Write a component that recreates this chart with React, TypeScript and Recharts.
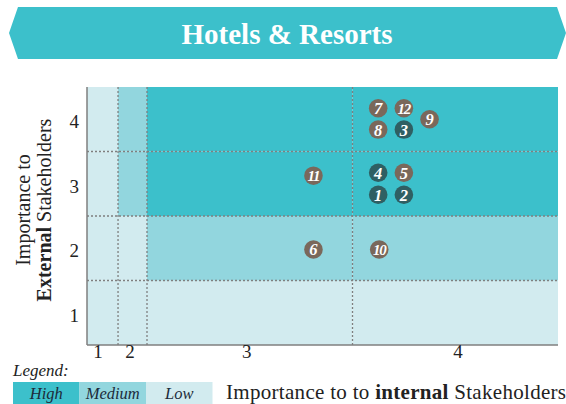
import React from 'react';
import { ScatterChart, Scatter, XAxis, YAxis, ReferenceArea, ReferenceLine } from 'recharts';

// ---- data ----
const titleText = 'Hotels & Resorts';
const xAxisLabelParts = ['Importance to to ', 'internal', ' Stakeholders'];
const yAxisLabelLine1 = 'Importance to';
const yAxisLabelLine2 = ['External', ' Stakeholders'];

// internal importance bands (x) - edges in score units
const xBandEdges = [1.708, 1.859, 2, 3, 4];
const xTickLabels = ['1', '2', '3', '4'];
const xTickValues = [1.762, 1.917, 2.485, 3.513];

// external importance bands (y)
const yBandEdges = [0, 1, 2, 3, 4];
const yTickLabels = ['1', '2', '3', '4'];
const yTickValues = [0.5, 1.5, 2.5, 3.5];

// level of each cell: rows from external=1 (bottom) to 4 (top), columns internal 1..4
const cellLevelsRow1 = ['Low', 'Low', 'Low', 'Low'];
const cellLevelsRow2 = ['Low', 'Low', 'Medium', 'Medium'];
const cellLevelsRow3 = ['Low', 'Medium', 'High', 'High'];
const cellLevelsRow4 = ['Low', 'Medium', 'High', 'High'];

const legendLevels = ['High', 'Medium', 'Low'];
const levelColors: Record<string, string> = { High: '#3cc0cb', Medium: '#92d6de', Low: '#d2ebef' };

// issues
const issueIds = [1, 2, 3, 4, 5, 6, 7, 8, 9, 10, 11, 12];
const internalScores = [3.125, 3.25, 3.25, 3.125, 3.25, 2.81, 3.125, 3.125, 3.375, 3.13, 2.81, 3.25];
const externalScores = [2.33, 2.33, 3.34, 2.67, 2.67, 1.48, 3.67, 3.34, 3.5, 1.48, 2.625, 3.67];
const highlightedIds = [1, 2, 3, 4];

const points = issueIds.map((id, i) => ({
  id,
  x: internalScores[i],
  y: externalScores[i],
  dark: highlightedIds.includes(id),
}));

const cellRows = [cellLevelsRow1, cellLevelsRow2, cellLevelsRow3, cellLevelsRow4];

const SERIF = '"Liberation Serif", "DejaVu Serif", serif';
const GRID = '#7f7f7f';

const Dot = (props: any) => {
  const { cx, cy, payload } = props;
  if (cx == null || cy == null) return null;
  const two = payload.id > 9;
  return (
    <g>
      <circle cx={cx} cy={cy} r={9.3} fill={payload.dark ? '#2f5f63' : '#7a685b'} />
      <text
        x={cx}
        y={cy}
        dy="0.36em"
        textAnchor="middle"
        fill="#ffffff"
        fontFamily={SERIF}
        fontStyle="italic"
        fontWeight="bold"
        fontSize={two ? 15 : 16.5}
        letterSpacing={two ? -1.2 : 0}
      >
        {payload.id}
      </text>
    </g>
  );
};

const XTick = (props: any) => {
  const { x, y, index } = props;
  return (
    <text x={x} y={y} dy={5} textAnchor="middle" fill="#222" fontFamily={SERIF} fontSize={19}>
      {xTickLabels[index]}
    </text>
  );
};

const YTick = (props: any) => {
  const { x, y, index } = props;
  return (
    <text x={x} y={y} dy={9} textAnchor="end" fill="#222" fontFamily={SERIF} fontSize={19}>
      {yTickLabels[index]}
    </text>
  );
};

export default function App() {
  return (
    <div style={{ position: 'absolute', left: 0, top: 0, width: 566, height: 404, background: '#fff' }}>
      <div style={{ position: 'absolute', left: 0, top: 0 }}>
        <ScatterChart width={566} height={404} margin={{ top: 87, right: 8, bottom: 29, left: 57 }}>
          {cellRows.map((row, r) =>
            row.map((level, c) => (
              <ReferenceArea
                key={`cell-${r}-${c}`}
                x1={xBandEdges[c]}
                x2={xBandEdges[c + 1]}
                y1={yBandEdges[r]}
                y2={yBandEdges[r + 1]}
                fill={levelColors[level]}
                fillOpacity={1}
                stroke="none"
                ifOverflow="hidden"
              />
            ))
          )}
          {xBandEdges.slice(1, -1).map((v) => (
            <ReferenceLine key={`vx-${v}`} x={v} stroke={GRID} strokeDasharray="2 2" strokeWidth={1.3} />
          ))}
          {yBandEdges.slice(1, -1).map((v) => (
            <ReferenceLine key={`hy-${v}`} y={v} stroke={GRID} strokeDasharray="2 2" strokeWidth={1.3} />
          ))}
          <XAxis
            type="number"
            dataKey="x"
            domain={[xBandEdges[0], xBandEdges[xBandEdges.length - 1]]}
            allowDataOverflow
            ticks={xTickValues}
            interval={0}
            tick={<XTick />}
            tickLine={false}
            axisLine={{ stroke: GRID, strokeWidth: 1.5 }}
            height={30}
          />
          <YAxis
            type="number"
            dataKey="y"
            domain={[yBandEdges[0], yBandEdges[yBandEdges.length - 1]]}
            allowDataOverflow
            ticks={yTickValues}
            interval={0}
            tick={<YTick />}
            tickLine={false}
            axisLine={{ stroke: GRID, strokeWidth: 1.5 }}
            width={30}
          />
          <Scatter data={points} shape={<Dot />} isAnimationActive={false} />
        </ScatterChart>
      </div>
      <svg
        width={566}
        height={404}
        style={{ position: 'absolute', left: 0, top: 0, pointerEvents: 'none' }}
      >
        <polygon points="9,33 18,7 557,7 566,33 557,59 18,59" fill="#3cc0cb" />
        <text x={287} y={44} textAnchor="middle" fill="#ffffff" fontFamily={SERIF} fontWeight="bold" fontSize={29}>
          {titleText}
        </text>

        <g transform="translate(30,210) rotate(-90)">
          <text x={0} y={0} textAnchor="middle" fill="#222" fontFamily={SERIF} fontSize={20}>
            {yAxisLabelLine1}
          </text>
          <text x={0} y={21} textAnchor="middle" fill="#222" fontFamily={SERIF} fontSize={20}>
            <tspan fontWeight="bold">{yAxisLabelLine2[0]}</tspan>
            <tspan>{yAxisLabelLine2[1]}</tspan>
          </text>
        </g>

        <text x={226} y={399} fill="#222" fontFamily={SERIF} fontSize={21} letterSpacing={0.3}>
          <tspan>{xAxisLabelParts[0]}</tspan>
          <tspan fontWeight="bold">{xAxisLabelParts[1]}</tspan>
          <tspan>{xAxisLabelParts[2]}</tspan>
        </text>

        <text x={13} y={376} fill="#222" fontFamily={SERIF} fontStyle="italic" fontSize={17}>
          Legend:
        </text>
        {legendLevels.map((lvl, i) => (
          <g key={lvl}>
            <rect x={13 + i * 66.5} y={382} width={66.5} height={22} fill={levelColors[lvl]} />
            <text
              x={13 + i * 66.5 + 33.25}
              y={399}
              textAnchor="middle"
              fill="#1c2b3a"
              fontFamily={SERIF}
              fontStyle="italic"
              fontSize={16.5}
            >
              {lvl}
            </text>
          </g>
        ))}
      </svg>
    </div>
  );
}
